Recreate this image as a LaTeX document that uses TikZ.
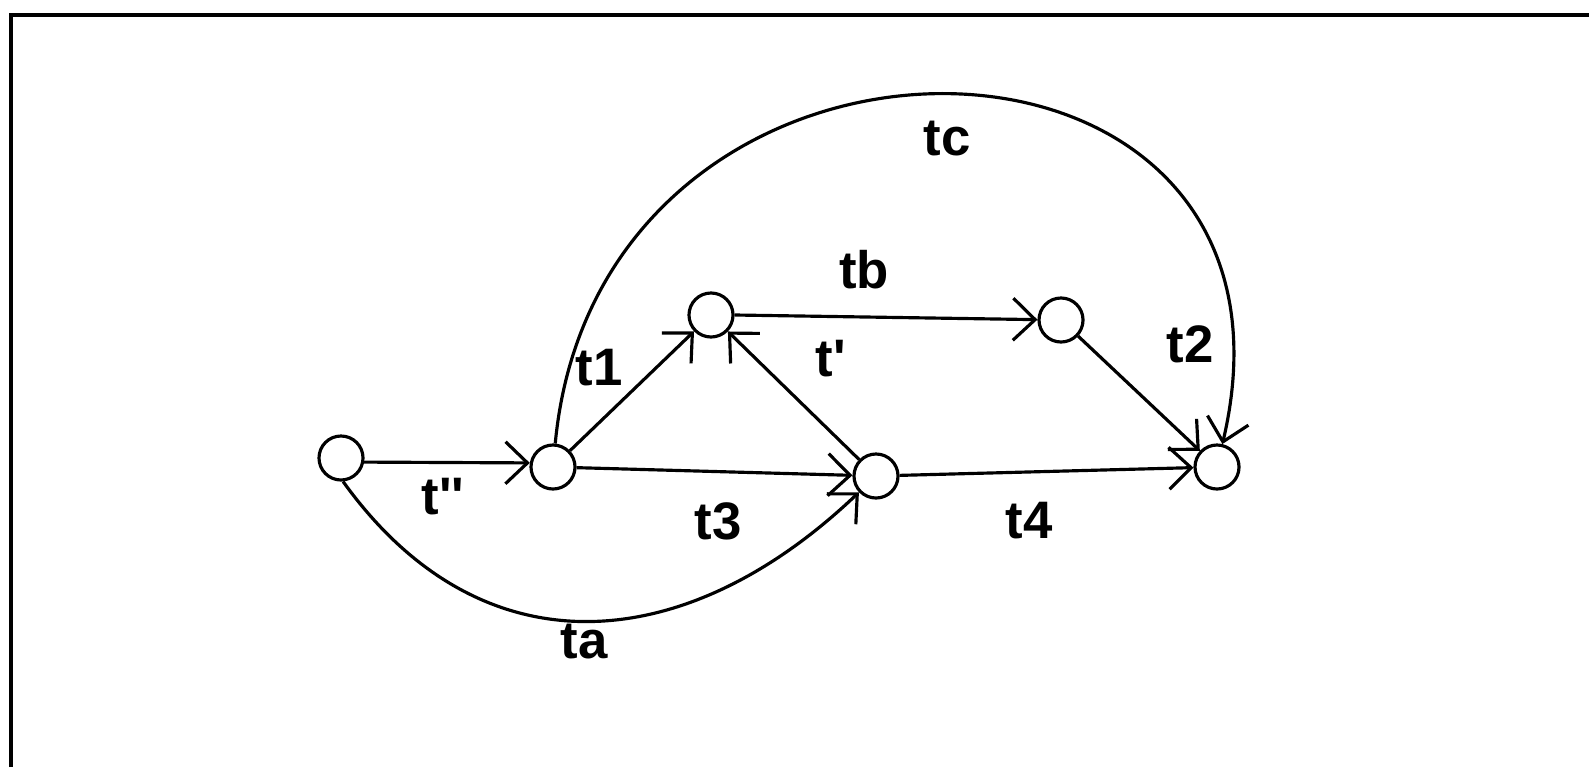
\documentclass[tikz,border=0pt]{standalone}
\usepackage{fontspec}
\newfontfamily\labfont{Liberation Sans Bold}
\usetikzlibrary{arrows.meta}

\begin{document}
\begin{tikzpicture}[x=0.01cm, y=-0.01cm, line width=0.9pt,
  place/.style={circle,draw,inner sep=0pt,minimum size=0.44cm},
  lab/.style={inner sep=0pt,font=\labfont\fontsize{15}{17}\selectfont},
  >={Straight Barb[length=2.2mm,width=4.2mm]}]
\useasboundingbox (0,0) rectangle (1589,767);
\draw[line width=1.2pt] (11,767) -- (11,15) -- (1589,15);
     \node[place] (1) at (341,458) {};
     \node[place] (2) at (553,467) {};
     \node[place] (3) at (711,315) {};
     \node[place] (4) at (876,476) {};
     \node[place] (5) at (1061,320) {};
     \node[place] (6) at (1217,467) {};
     \node[lab] (tc) at (947,139) {tc};
     \node[lab] (tb) at (864,270) {tb};
     \node[lab] (t1) at (599,368) {t1};
     \node[lab] (tp) at (831,359) {t'};
     \node[lab] (t2) at (1190,344) {t2};
     \node[lab] (tpp) at (443,497) {t''};
     \node[lab] (t3) at (718,521) {t3};
     \node[lab] (t4) at (1029,521) {t4};
     \node[lab] (ta) at (584,642) {ta};
\draw[->] (1.-10) -- (2.170);
\draw[->] (2) -- (3);
\draw[->] (2) -- (4);
\draw[->] (4) -- (3);
\draw[->] (3.east) -- (5);
\draw[->] (5) -- (6);
\draw[->] (4) -- (6);
\draw[->] (1.-85) .. controls (482,675) and (686,657) .. (4);
\draw[->] (2) .. controls (600,-30) and (1330,-15) .. (6);
\end{tikzpicture}
\end{document}
